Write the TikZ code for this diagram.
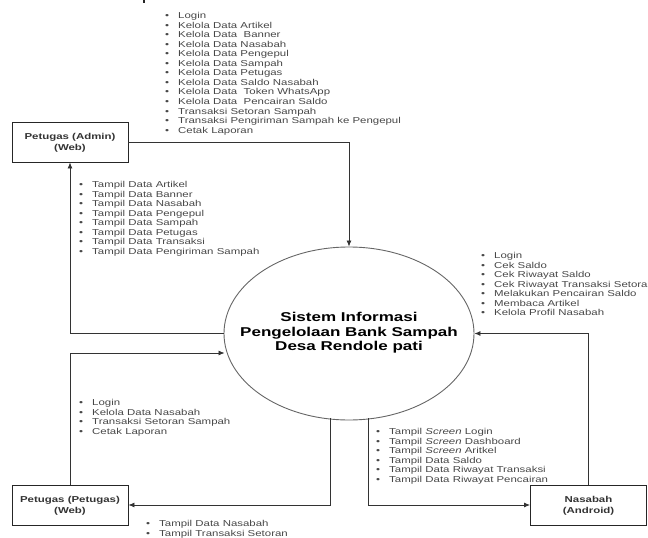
\documentclass[tikz,border=0pt]{standalone}
\usepackage{fontspec}
\setmainfont[FakeStretch=1.33]{Liberation Sans}
\usetikzlibrary{arrows.meta,shapes.geometric}
\newcommand{\bu}{\makebox[13pt][l]{\textbullet}}
\tikzset{
  x=1pt,y=-1pt,
  lst/.style={anchor=north west,inner sep=0pt,align=left,text=black!72,font=\fontsize{8.6}{9.57}\selectfont},
  ent/.style={draw=black!85,line width=0.9pt,minimum width=116pt,minimum height=40pt,inner sep=0pt,align=center,text depth=0pt,text=black!80,font=\fontsize{8.6}{10.5}\selectfont\bfseries},
  proc/.style={draw=black!60,line width=0.9pt,ellipse,minimum width=250pt,minimum height=173pt,inner sep=0pt},
  proctext/.style={inner sep=0pt,align=center,font=\fontsize{12.8}{14.6}\selectfont\bfseries},
  flow/.style={draw=black!80,line width=0.8pt,-{Latex[length=6pt,width=5pt]}}
}
\begin{document}
\begin{tikzpicture}
\useasboundingbox (0,0) rectangle (648,538);
\node[ent] (admin) at (70,142) {Petugas (Admin)\\(Web)};
\node[ent] (petugas) at (70,505) {Petugas (Petugas)\\(Web)};
\node[ent] (nasabah) at (588.5,505) {Nasabah\\(Android)};
\node[proc] (sys) at (349,333.5) {};
\node[proctext] (systext) at (349,333) {Sistem Informasi\\Pengelolaan Bank Sampah\\Desa Rendole pati};
\draw[flow] (admin.east) -| (sys.north);
\coordinate (a1) at (70,333.5);
\draw[flow] (sys.west) -- (a1) -- (admin.south);
\coordinate (p1) at (70,353);
\coordinate (p2) at (sys.west |- p1);
\draw[flow] (petugas.north) -- (p1) -- ([xshift=1pt]p2);
\coordinate (s1) at (330,418);
\coordinate (s2) at (330,505);
\draw[flow] (s1) -- (s2) -- (petugas.east);
\coordinate (s3) at (368,418);
\coordinate (s4) at (368,505);
\draw[flow] (s3) -- (s4) -- (nasabah.west);
\coordinate (n1) at (nasabah.north |- sys.east);
\draw[flow] (nasabah.north) -- (n1) -- (sys.east);
\fill[black!85] (143,0) rectangle (145,2.5);
\node[lst] (l1) at (165,12) {\bu Login\\\bu Kelola Data Artikel\\\bu Kelola Data \ Banner\\\bu Kelola Data Nasabah\\\bu Kelola Data Pengepul\\\bu Kelola Data Sampah\\\bu Kelola Data Petugas\\\bu Kelola Data Saldo Nasabah\\\bu Kelola Data \ Token WhatsApp\\\bu Kelola Data \ Pencairan Saldo\\\bu Transaksi Setoran Sampah\\\bu Transaksi Pengiriman Sampah ke Pengepul\\\bu Cetak Laporan};
\node[lst] (l2) at (79,181) {\bu Tampil Data Artikel\\\bu Tampil Data Banner\\\bu Tampil Data Nasabah\\\bu Tampil Data Pengepul\\\bu Tampil Data Sampah\\\bu Tampil Data Petugas\\\bu Tampil Data Transaksi\\\bu Tampil Data Pengiriman Sampah};
\node[lst] (l3) at (79,399) {\bu Login\\\bu Kelola Data Nasabah\\\bu Transaksi Setoran Sampah\\\bu Cetak Laporan};
\node[lst] (l4) at (146,520) {\bu Tampil Data Nasabah\\\bu Tampil Transaksi Setoran};
\node[lst] (l5) at (376,428) {\bu Tampil \textit{Screen} Login\\\bu Tampil \textit{Screen} Dashboard\\\bu Tampil \textit{Screen} Aritkel\\\bu Tampil Data Saldo\\\bu Tampil Data Riwayat Transaksi\\\bu Tampil Data Riwayat Pencairan};
\node[lst] (l6) at (481,252) {\bu Login\\\bu Cek Saldo\\\bu Cek Riwayat Saldo\\\bu Cek Riwayat Transaksi Setora\\\bu Melakukan Pencairan Saldo\\\bu Membaca Artikel\\\bu Kelola Profil Nasabah};
\end{tikzpicture}
\end{document}
